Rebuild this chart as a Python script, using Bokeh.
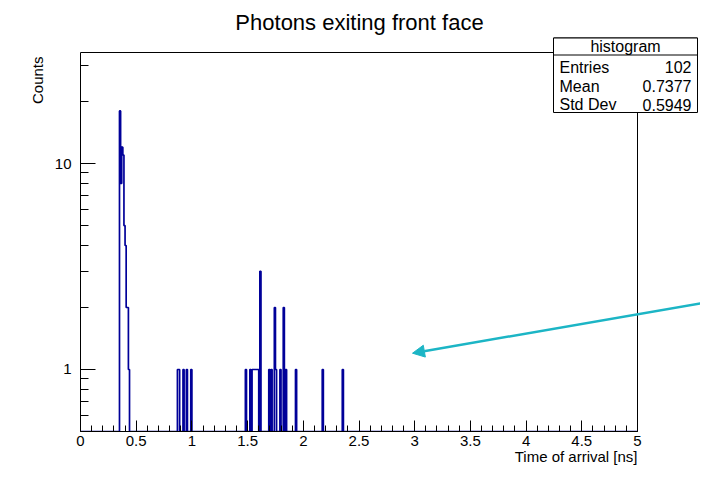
import math
import numpy as np
from bokeh.plotting import figure
from bokeh.models import (FixedTicker, Label, BoxAnnotation, Arrow, NormalHead, Range1d, Title)
from bokeh.embed import file_html
from bokeh.resources import INLINE

# ---------------- data ----------------
title_text = "Photons exiting front face"
x_label = "Time of arrival [ns]"
y_label = "Counts"
bin_width = 0.01
x_lo, x_hi = 0.0, 5.0
y_lo, y_hi = 0.5, 34.6

bin_lefts = [0.35, 0.36, 0.37, 0.38, 0.39, 0.40, 0.41, 0.42, 0.43,
             0.87, 0.88, 0.92, 0.95, 0.99,
             1.48, 1.52, 1.54, 1.55, 1.56, 1.57, 1.58, 1.59, 1.61,
             1.69, 1.71, 1.74, 1.75, 1.79, 1.82, 1.84, 1.93,
             2.17, 2.35]
bin_counts = [18, 8, 12, 11, 5, 4, 2, 2, 1,
              1, 1, 1, 1, 1,
              1, 1, 1, 1, 1, 1, 1, 1, 3,
              1, 1, 2, 1, 1, 2, 1, 1,
              1, 1]

x_ticks = [0, 0.5, 1, 1.5, 2, 2.5, 3, 3.5, 4, 4.5, 5]
x_tick_labels = ["0", "0.5", "1", "1.5", "2", "2.5", "3", "3.5", "4", "4.5", "5"]
x_minor_ticks = [round(i * 0.1, 1) for i in range(51)]
y_ticks = [1, 10]
y_tick_labels = ["1", "10"]
y_minor_ticks = [0.6, 0.7, 0.8, 0.9, 2, 3, 4, 5, 6, 7, 8, 9, 20, 30]

stats_title = "histogram"
stats_keys = ["Entries", "Mean", "Std Dev"]
stats_vals = ["102", "0.7377", "0.5949"]

# ---------------- layout (canvas pixels) ----------------
W, H = 700, 476
FL, FR, FT, FB = 80, 637, 52, 431   # visible histogram frame edges
FONT = "Liberation Sans"
HIST_COLOR = "#000099"
ARROW_COLOR = "#1cb5c5"


def dx(px):
    return x_lo + (px - FL) / (FR - FL) * (x_hi - x_lo)


def dy(py):
    l0, l1 = math.log10(y_lo), math.log10(y_hi)
    return 10 ** (l0 + (FB - py) / (FB - FT) * (l1 - l0))


# plot frame is extended to the canvas top and right so the stats box,
# title and arrow can live inside it; axes are bounded to the data range
p = figure(width=W, height=H, x_range=Range1d(x_lo, dx(W)), y_range=Range1d(y_lo, dy(0)),
           y_axis_type="log", output_backend="svg", toolbar_location=None, title=None,
           min_border_left=FL, min_border_right=0, min_border_top=0,
           min_border_bottom=H - FB)
p.xgrid.visible = False
p.ygrid.visible = False
p.background_fill_color = "white"
p.border_fill_color = "white"
p.outline_line_color = None

# histogram outline (ROOT style step)
nb = int(round((x_hi - x_lo) / bin_width))
counts = np.zeros(nb)
for left, c in zip(bin_lefts, bin_counts):
    counts[int(round((left - x_lo) / bin_width))] = c
edges = x_lo + np.arange(nb + 1) * bin_width
hts = np.where(counts > 0, counts, y_lo)
xs = [x_lo]
ys = [y_lo]
for i in range(nb):
    xs += [edges[i], edges[i + 1]]
    ys += [hts[i], hts[i]]
xs.append(x_hi)
ys.append(y_lo)
p.line(xs, ys, line_color=HIST_COLOR, line_width=1.7)

# visible frame
p.add_layout(BoxAnnotation(left=x_lo, right=x_hi, bottom=y_lo, top=y_hi,
                           fill_alpha=0, line_color="black", line_width=1, line_alpha=1))

# axes
xa = p.xaxis[0]
xa.bounds = (x_lo, x_hi)
xa.ticker = FixedTicker(ticks=x_ticks, minor_ticks=x_minor_ticks)
xa.major_label_overrides = {float(t): l for t, l in zip(x_ticks, x_tick_labels)}
xa.major_tick_in = 11
xa.major_tick_out = 0
xa.minor_tick_in = 6
xa.minor_tick_out = 0
xa.major_label_standoff = 4
ya = p.yaxis[0]
ya.bounds = (y_lo, y_hi)
ya.ticker = FixedTicker(ticks=y_ticks, minor_ticks=y_minor_ticks)
ya.major_label_overrides = {float(t): l for t, l in zip(y_ticks, y_tick_labels)}
ya.major_tick_in = 15
ya.major_tick_out = 0
ya.minor_tick_in = 8
ya.minor_tick_out = 0
ya.major_label_standoff = 9
for ax in (xa, ya):
    ax.axis_line_color = "black"
    ax.major_tick_line_color = "black"
    ax.minor_tick_line_color = "black"
    ax.major_label_text_font = FONT
    ax.major_label_text_font_size = "15px"
    ax.major_label_text_color = "black"

# axis titles (ROOT style: right / top aligned)
p.add_layout(Title(text=x_label, align="right", offset=W - FR, standoff=-6,
                   text_font=FONT, text_font_size="15px", text_font_style="normal",
                   text_color="black"), "below")
p.add_layout(Title(text=y_label, align="right", offset=56, standoff=12,
                   text_font=FONT, text_font_size="15px", text_font_style="normal",
                   text_color="black"), "left")

# main title
p.add_layout(Label(x=dx(359), y=dy(22), text=title_text, text_align="center",
                   text_baseline="middle", text_font=FONT, text_font_size="22px",
                   text_color="black"))

# stats box
BL, BR, BT, BB, BH = 553, 697, 37.5, 112, 54.5
p.add_layout(BoxAnnotation(left=dx(BL), right=dx(BR), top=dy(BT), bottom=dy(BB),
                           fill_color="white", fill_alpha=1, line_color="black",
                           line_width=1, line_alpha=1))
p.add_layout(BoxAnnotation(left=dx(BL), right=dx(BR), top=dy(BT), bottom=dy(BH),
                           fill_color="white", fill_alpha=1, line_color="black",
                           line_width=1, line_alpha=1))
p.add_layout(Label(x=dx((BL + BR) / 2), y=dy(46), text=stats_title, text_align="center",
                   text_baseline="middle", text_font=FONT, text_font_size="16px",
                   text_color="black"))
row_y = [66.5, 85.5, 104]
for k, v, ry in zip(stats_keys, stats_vals, row_y):
    p.add_layout(Label(x=dx(559), y=dy(ry), text=k, text_align="left",
                       text_baseline="middle", text_font=FONT, text_font_size="16px",
                       text_color="black"))
    p.add_layout(Label(x=dx(691), y=dy(ry), text=v, text_align="right",
                       text_baseline="middle", text_font=FONT, text_font_size="16px",
                       text_color="black"))

# annotation arrow
p.add_layout(Arrow(end=NormalHead(size=12, fill_color=ARROW_COLOR, line_color=ARROW_COLOR),
                   x_start=dx(702), y_start=dy(302.5), x_end=dx(412), y_end=dy(352.7),
                   line_color=ARROW_COLOR, line_width=2.5))

open("out.html", "w").write(file_html(p, INLINE))
